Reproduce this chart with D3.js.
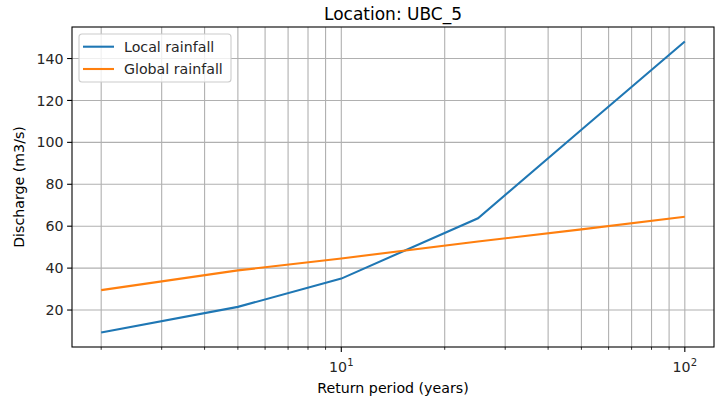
<!DOCTYPE html>
<html>
<head>
<meta charset="utf-8">
<script src="https://cdn.jsdelivr.net/npm/d3@7"></script>
<style>
  body { margin: 0; background: #fff; }
  svg { font-family: "DejaVu Sans", sans-serif; }
</style>
</head>
<body>
<div id="chart"></div>
<script>
// return periods (years)
const periods = [2, 5, 10, 25, 50, 100];
// discharge values (m3/s)
const localRain = [9.3, 21.5, 35.0, 63.8, 106.0, 148.1];
const globalRain = [29.5, 38.9, 44.6, 52.7, 58.5, 64.5];
const seriesNames = ["Local rainfall", "Global rainfall"];
const yTicks = [20, 40, 60, 80, 100, 120, 140];

const W = 717, H = 398;
const margin = { top: 27, right: 3, bottom: 51, left: 72 };
const width = W - margin.left - margin.right;
const height = H - margin.top - margin.bottom;

const svg = d3.select("#chart").append("svg")
  .attr("width", W)
  .attr("height", H);

const g = svg.append("g")
  .attr("transform", "translate(" + margin.left + "," + margin.top + ")");

// matplotlib style 5% margins (log space for x)
const lx0 = Math.log10(d3.min(periods)), lx1 = Math.log10(d3.max(periods));
const padX = (lx1 - lx0) * 0.05;
const x = d3.scaleLog()
  .domain([Math.pow(10, lx0 - padX), Math.pow(10, lx1 + padX)])
  .range([0, width]);

const allY = localRain.concat(globalRain);
const y0 = d3.min(allY), y1 = d3.max(allY);
const padY = (y1 - y0) * 0.05;
const y = d3.scaleLinear()
  .domain([y0 - padY, y1 + padY])
  .range([height, 0]);

// gridlines: all x ticks (major+minor) and y majors
const xGridVals = [2, 3, 4, 5, 6, 7, 8, 9, 10, 20, 30, 40, 50, 60, 70, 80, 90, 100];
g.append("g").selectAll("line")
  .data(xGridVals)
  .enter().append("line")
  .attr("x1", d => x(d)).attr("x2", d => x(d))
  .attr("y1", 0).attr("y2", height)
  .attr("stroke", "#b0b0b0").attr("stroke-width", 1.1);

g.append("g").selectAll("line")
  .data(yTicks)
  .enter().append("line")
  .attr("x1", 0).attr("x2", width)
  .attr("y1", d => y(d)).attr("y2", d => y(d))
  .attr("stroke", "#b0b0b0").attr("stroke-width", 1.1);

// lines
const line = d3.line()
  .x((d, i) => x(periods[i]))
  .y(d => y(d));

const colors = ["#1f77b4", "#ff7f0e"];
[localRain, globalRain].forEach((s, k) => {
  g.append("path")
    .datum(s)
    .attr("fill", "none")
    .attr("stroke", colors[k])
    .attr("stroke-width", 2.1)
    .attr("d", line);
});

// x axis ticks
const xAxis = g.append("g").attr("transform", "translate(0," + height + ")");
xAxis.selectAll("line.minor")
  .data(xGridVals.filter(d => d !== 10 && d !== 100))
  .enter().append("line")
  .attr("class", "minor")
  .attr("x1", d => x(d)).attr("x2", d => x(d))
  .attr("y1", 0).attr("y2", 2.8)
  .attr("stroke", "#000").attr("stroke-width", 0.8);

const majors = [10, 100];
xAxis.selectAll("line.major")
  .data(majors)
  .enter().append("line")
  .attr("class", "major")
  .attr("x1", d => x(d)).attr("x2", d => x(d))
  .attr("y1", 0).attr("y2", 4.9)
  .attr("stroke", "#000").attr("stroke-width", 1.1);

const xl = xAxis.selectAll("text.tl")
  .data(majors)
  .enter().append("text")
  .attr("class", "tl")
  .attr("x", d => x(d))
  .attr("y", 25)
  .attr("text-anchor", "middle")
  .attr("font-size", 14.2)
  .attr("fill", "#262626");
xl.append("tspan").text("10");
xl.append("tspan")
  .attr("dy", -6)
  .attr("font-size", 10)
  .text(d => Math.round(Math.log10(d)));

// y axis ticks
const yAxis = g.append("g");
yAxis.selectAll("line")
  .data(yTicks)
  .enter().append("line")
  .attr("x1", -4.9).attr("x2", 0)
  .attr("y1", d => y(d)).attr("y2", d => y(d))
  .attr("stroke", "#000").attr("stroke-width", 1.1);
yAxis.selectAll("text")
  .data(yTicks)
  .enter().append("text")
  .attr("x", -8.5)
  .attr("y", d => y(d))
  .attr("dy", "0.36em")
  .attr("text-anchor", "end")
  .attr("font-size", 14.2)
  .attr("fill", "#262626")
  .text(d => d);

// frame
g.append("rect")
  .attr("width", width).attr("height", height)
  .attr("fill", "none").attr("stroke", "#000").attr("stroke-width", 1.1);

// labels
svg.append("text")
  .attr("x", margin.left + width / 2)
  .attr("y", 19.5)
  .attr("text-anchor", "middle")
  .attr("font-size", 17)
  .text("Location: UBC_5");

svg.append("text")
  .attr("x", margin.left + width / 2)
  .attr("y", 392.5)
  .attr("text-anchor", "middle")
  .attr("font-size", 14.2)
  .text("Return period (years)");

svg.append("text")
  .attr("transform", "translate(24," + (margin.top + height / 2) + ") rotate(-90)")
  .attr("text-anchor", "middle")
  .attr("font-size", 14.2)
  .text("Discharge (m3/s)");

// legend
const lg = g.append("g").attr("transform", "translate(7,7)");
lg.append("rect")
  .attr("width", 152).attr("height", 48)
  .attr("rx", 3)
  .attr("fill", "#fff").attr("fill-opacity", 0.8)
  .attr("stroke", "#cccccc").attr("stroke-width", 1.1);
seriesNames.forEach((name, k) => {
  const yy = 12.7 + k * 22.3;
  lg.append("line")
    .attr("x1", 4).attr("x2", 35)
    .attr("y1", yy).attr("y2", yy)
    .attr("stroke", colors[k]).attr("stroke-width", 2.1);
  lg.append("text")
    .attr("x", 45).attr("y", yy)
    .attr("dy", "0.36em")
    .attr("font-size", 14.2)
    .attr("fill", "#262626")
    .text(name);
});
</script>
</body>
</html>
